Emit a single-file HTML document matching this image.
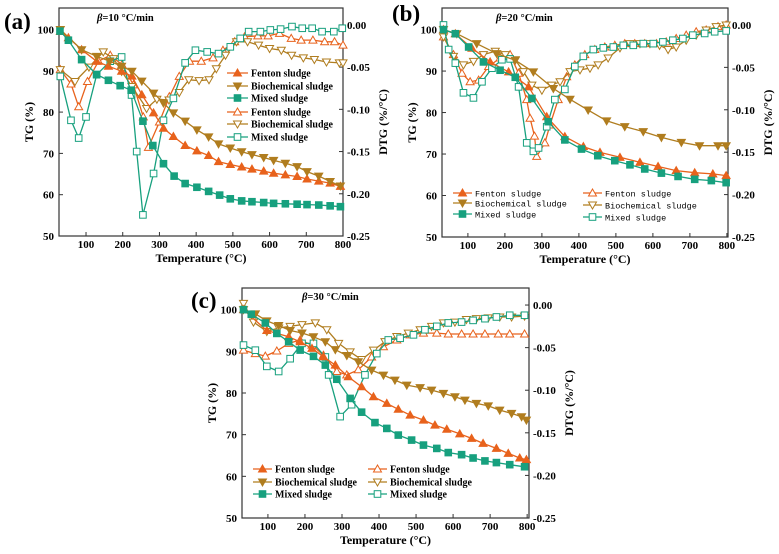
<!DOCTYPE html>
<html><head><meta charset="utf-8"><style>
body{margin:0;background:#fff;width:779px;height:554px;overflow:hidden}
svg{display:block;font-family:"Liberation Serif",serif}
</style></head><body>
<svg id="chart" width="779" height="554" viewBox="0 0 779 554"></svg>
<script>
// ---------- data ----------
const aFentonTG=[[30,99.5],[52,98],[88,95.1],[129,92.3],[161,91.1],[197,89.9],[225,88.7],[252,84.2],[284,79.8],[311,76.1],[338,74.1],[370,71.9],[402,70.6],[434,69.5],[461,68],[493,67.3],[524,66.7],[552,66.2],[584,65.7],[611,65.2],[643,64.8],[675,64.4],[702,63.8],[734,63.3],[765,62.8],[793,62]];
const aBioTG=[[30,100],[88,95.1],[129,93.5],[165,92.3],[197,91.1],[225,89.9],[252,87.5],[284,84.6],[311,82.2],[338,79.8],[370,77.8],[402,75.7],[434,74],[461,72.3],[493,71.3],[524,70.4],[552,69.7],[584,69],[611,68.3],[643,67.6],[675,66.8],[702,65.6],[734,64.5],[765,63.2],[793,62.1]];
const aMixTG=[[29,99.6],[52,97.4],[88,92.7],[129,89.1],[161,87.7],[193,86.4],[223,85.3],[255,77.8],[282,71.9],[311,67.5],[340,64.5],[370,62.7],[402,61.8],[434,60.8],[464,59.9],[493,59],[524,58.5],[552,58.3],[584,58.1],[611,57.9],[643,57.8],[675,57.7],[702,57.6],[734,57.5],[765,57.3],[793,57.1]];
const aFentonDTG=[[30,-0.053],[59,-0.070],[80,-0.097],[104,-0.067],[134,-0.043],[166,-0.036],[198,-0.047],[229,-0.071],[256,-0.109],[270,-0.145],[300,-0.115],[327,-0.085],[354,-0.061],[382,-0.043],[414,-0.043],[446,-0.039],[473,-0.030],[505,-0.020],[532,-0.014],[568,-0.013],[596,-0.013],[627,-0.010],[659,-0.016],[686,-0.018],[718,-0.018],[750,-0.020],[777,-0.020],[800,-0.024]];
const aBioDTG=[[30,-0.053],[70,-0.067],[108,-0.050],[147,-0.032],[175,-0.040],[197,-0.055],[225,-0.073],[265,-0.099],[293,-0.088],[326,-0.089],[354,-0.080],[380,-0.065],[408,-0.066],[435,-0.065],[455,-0.052],[480,-0.036],[510,-0.020],[540,-0.020],[570,-0.024],[600,-0.028],[632,-0.030],[660,-0.036],[692,-0.039],[722,-0.041],[755,-0.044],[790,-0.045],[800,-0.045]];
const aMixDTG=[[30,-0.061],[59,-0.113],[80,-0.134],[100,-0.109],[129,-0.059],[166,-0.043],[197,-0.038],[224,-0.083],[238,-0.150],[255,-0.225],[284,-0.176],[311,-0.113],[338,-0.087],[370,-0.045],[398,-0.030],[430,-0.032],[461,-0.034],[493,-0.026],[520,-0.016],[543,-0.008],[575,-0.008],[602,-0.006],[630,-0.005],[661,-0.002],[689,-0.004],[716,-0.004],[743,-0.008],[775,-0.008],[798,-0.004]];
const bFentonTG=[[34,100],[66,99],[111,95.5],[160,92.2],[210,89.8],[264,86.2],[313,79],[362,74.2],[412,71.8],[457,70.4],[511,69.2],[565,68],[614,67],[663,66],[713,65.5],[762,65.2],[798,64.8]];
const bBioTG=[[34,100],[70,99],[124,96.6],[178,94.2],[228,92.6],[277,89.8],[331,85.8],[376,83.2],[425,80.6],[475,78],[524,76.6],[574,75.4],[623,74],[677,72.8],[726,72],[776,72],[798,72]];
const bMixTG=[[34,100],[66,99],[102,95.8],[142,92.2],[187,90.2],[228,88.5],[273,83.4],[317,77.8],[362,73.4],[407,71.2],[451,69.6],[497,68.4],[538,67.4],[578,66.4],[623,65.4],[668,64.6],[713,63.9],[758,63.6],[798,63.1]];
const bFentonDTG=[[34,-0.014],[61,-0.035],[84,-0.057],[106,-0.067],[129,-0.065],[156,-0.049],[187,-0.039],[214,-0.035],[237,-0.057],[259,-0.088],[268,-0.110],[280,-0.131],[286,-0.155],[308,-0.139],[322,-0.118],[344,-0.088],[367,-0.061],[389,-0.047],[416,-0.035],[443,-0.029],[470,-0.026],[497,-0.024],[524,-0.022],[551,-0.022],[578,-0.022],[610,-0.022],[636,-0.020],[663,-0.016],[690,-0.012],[717,-0.008],[744,-0.006],[776,-0.002],[798,0]];
const bBioDTG=[[34,-0.014],[61,-0.037],[88,-0.047],[115,-0.043],[142,-0.035],[174,-0.031],[201,-0.035],[228,-0.041],[250,-0.055],[273,-0.071],[300,-0.077],[326,-0.071],[349,-0.067],[376,-0.055],[403,-0.053],[430,-0.051],[452,-0.047],[479,-0.039],[511,-0.027],[538,-0.022],[565,-0.022],[592,-0.022],[618,-0.024],[641,-0.029],[663,-0.026],[690,-0.018],[717,-0.012],[744,-0.006],[771,-0.002],[798,0]];
const bMixDTG=[[34,0],[48,-0.029],[66,-0.045],[88,-0.080],[115,-0.086],[138,-0.067],[165,-0.051],[192,-0.041],[214,-0.040],[237,-0.073],[259,-0.139],[277,-0.149],[291,-0.145],[313,-0.120],[335,-0.088],[362,-0.076],[389,-0.049],[412,-0.037],[439,-0.029],[466,-0.027],[493,-0.026],[520,-0.024],[547,-0.024],[574,-0.022],[601,-0.022],[627,-0.020],[654,-0.018],[681,-0.016],[708,-0.012],[740,-0.010],[767,-0.008],[798,-0.007]];
const cFentonTG=[[34,100],[97,95],[156,93.5],[187,92.3],[219,90.7],[250,88.7],[282,86.7],[317,83.9],[353,81.5],[385,79.1],[421,77.5],[452,76.1],[484,74.7],[520,73.5],[551,72.3],[583,71.3],[618,70.2],[650,69.1],[681,67.9],[717,66.7],[749,65.5],[780,64.4],[798,64]];
const cBioTG=[[34,100],[66,99],[97,97.3],[129,96.2],[160,95],[192,94.4],[223,93.5],[255,92.3],[282,90.4],[313,89],[344,87.5],[380,85.5],[412,84.3],[443,83.1],[475,81.9],[511,81.3],[542,80.7],[574,79.9],[605,79.1],[632,78.3],[663,77.5],[695,76.9],[726,75.9],[758,75.1],[785,74.3],[798,73.5]];
const cMixTG=[[34,100],[55,98.9],[93,96.8],[124,94.3],[156,92.3],[187,90.3],[223,88.8],[255,86.7],[286,83.3],[322,78.7],[353,75.4],[389,72.9],[421,71.5],[452,69.9],[488,68.7],[520,67.5],[556,66.7],[587,65.7],[623,65.2],[654,64.4],[686,63.7],[717,63.3],[753,62.8],[793,62.3]];
const cFentonDTG=[[34,-0.053],[66,-0.057],[93,-0.060],[124,-0.054],[156,-0.045],[187,-0.041],[219,-0.047],[250,-0.059],[286,-0.078],[313,-0.082],[344,-0.076],[380,-0.061],[412,-0.049],[448,-0.041],[484,-0.035],[520,-0.033],[556,-0.033],[587,-0.034],[623,-0.034],[654,-0.034],[686,-0.034],[722,-0.034],[753,-0.034],[793,-0.034]];
const cBioDTG=[[34,0.002],[61,-0.020],[97,-0.031],[129,-0.027],[160,-0.025],[192,-0.023],[228,-0.021],[259,-0.029],[291,-0.045],[322,-0.055],[353,-0.064],[385,-0.053],[416,-0.043],[448,-0.037],[479,-0.033],[511,-0.029],[542,-0.025],[574,-0.021],[605,-0.020],[636,-0.017],[663,-0.016],[695,-0.015],[726,-0.014],[758,-0.014],[793,-0.013]];
const cMixDTG=[[34,-0.047],[66,-0.053],[97,-0.072],[129,-0.078],[160,-0.063],[192,-0.045],[223,-0.045],[255,-0.061],[264,-0.082],[295,-0.131],[326,-0.117],[362,-0.082],[394,-0.057],[425,-0.041],[457,-0.039],[493,-0.035],[524,-0.029],[556,-0.025],[587,-0.021],[623,-0.020],[654,-0.018],[686,-0.016],[717,-0.014],[753,-0.012],[793,-0.012]];
const xTicks=[100,200,300,400,500,600,700,800];
const tgTicks=[50,60,70,80,90,100];
const dtgTicks=[-0.25,-0.20,-0.15,-0.10,-0.05,0.00];
const seriesNames=["Fenton sludge","Biochemical sludge","Mixed sludge"];
// ---------- drawing ----------
const NS="http://www.w3.org/2000/svg";
const svg=document.getElementById('chart');
const COL={f:"#e8621c",b:"#b07d1f",m:"#17a07e"};
function el(tag,attrs,parent){const e=document.createElementNS(NS,tag);for(const k in attrs)e.setAttribute(k,attrs[k]);(parent||svg).appendChild(e);return e;}
function marker(g,kind,filled,x,y,c){
  const fill=filled?c:"#fff";let m;
  if(kind==='up') m=el('polygon',{points:`${x},${y-4} ${x-4},${y+3} ${x+4},${y+3}`,fill,stroke:c,'stroke-width':1},g);
  else if(kind==='down') m=el('polygon',{points:`${x},${y+4} ${x-4},${y-3} ${x+4},${y-3}`,fill,stroke:c,'stroke-width':1},g);
  else m=el('rect',{x:x-3.3,y:y-3.3,width:6.6,height:6.6,fill,stroke:c,'stroke-width':1},g);
  
  
}
function panel(P){
  const g=el('g',{});
  
  
  const X=t=>P.l+(t-P.x0)/(P.x1-P.x0)*(P.r-P.l);
  const Y=v=>P.b-(v-50)/(105.2-50)*(P.b-P.t);
  const Y2=v=>P.b-(v+0.25)/(0.27)*(P.b-P.t);
  const fr=el('rect',{x:P.l,y:P.t,width:P.r-P.l,height:P.b-P.t,fill:'none',stroke:'#333','stroke-width':1.2},g);
  
  xTicks.forEach(t=>{const x=X(t);el('line',{x1:x,y1:P.b,x2:x,y2:P.b-4,stroke:'#333'},g);
    const tx=el('text',{x:x,y:P.b+12,'text-anchor':'middle','font-size':11,'font-weight':'bold'},g);tx.textContent=t;
    });
  tgTicks.forEach(v=>{const y=Y(v);el('line',{x1:P.l,y1:y,x2:P.l+4,y2:y,stroke:'#333'},g);
    const tx=el('text',{x:P.l-5,y:y+4,'text-anchor':'end','font-size':11,'font-weight':'bold'},g);tx.textContent=v;
    });
  dtgTicks.forEach(v=>{const y=Y2(v);el('line',{x1:P.r,y1:y,x2:P.r-4,y2:y,stroke:'#333'},g);
    const tx=el('text',{x:P.r+4,y:y+4,'font-size':11,'font-weight':'bold'},g);tx.textContent=v.toFixed(2);
    });
  let t=el('text',{x:P.lab[0],y:P.lab[1],'font-size':23,'font-weight':'bold'},g);t.textContent='('+P.id+')';
  
  t=el('text',{x:P.beta[0],y:P.beta[1],'font-size':10.5,'font-weight':'bold'},g);
  const ts=el('tspan',{'font-style':'italic'},t);ts.textContent='β';
  const ts2=el('tspan',{},t);ts2.textContent='='+P.rate+' °C/min';
  
  t=el('text',{x:(P.l+P.r)/2,y:P.b+26,'text-anchor':'middle','font-size':12,'font-weight':'bold'},g);t.textContent='Temperature (°C)';
  
  t=el('text',{x:0,y:0,'text-anchor':'middle','font-size':12,'font-weight':'bold',transform:`translate(${P.l-26},${(P.t+P.b)/2}) rotate(-90)`},g);t.textContent='TG (%)';
  
  t=el('text',{x:0,y:0,'text-anchor':'middle','font-size':12,'font-weight':'bold',transform:`translate(${P.r+44},${(P.t+P.b)/2}) rotate(-90)`},g);t.textContent='DTG (%/°C)';
  
  const S=[[P.d[3],'f','up',false,Y2],[P.d[4],'b','down',false,Y2],[P.d[5],'m','sq',false,Y2],
           [P.d[0],'f','up',true,Y],[P.d[1],'b','down',true,Y],[P.d[2],'m','sq',true,Y]];
  S.forEach(([data,c,kind,filled,YY])=>{
    const pts=data.map(p=>X(p[0]).toFixed(1)+','+YY(p[1]).toFixed(1)).join(' ');
    const pl=el('polyline',{points:pts,fill:'none',stroke:COL[c],'stroke-width':1.3,'stroke-linejoin':'round'},g);
    
    data.forEach(p=>marker(g,kind,filled,X(p[0]),YY(p[1]),COL[c]));
  });
  const L=P.leg;
  const order=[['f','up',true],['b','down',true],['m','sq',true],['f','up',false],['b','down',false],['m','sq',false]];
  order.forEach((o,i)=>{
    const [lx,ly]=L.pos[i];
    const lg=el('g',{},g);
    
    el('line',{x1:lx,y1:ly,x2:lx+L.w,y2:ly,stroke:COL[o[0]],'stroke-width':1.3},lg);
    marker(lg,o[1],o[2],lx+L.w/2,ly,COL[o[0]]);
    const tx=el('text',{x:lx+L.w+3,y:ly+3.5,'font-size':L.fs,'font-weight':L.mono?'normal':'bold','font-family':L.mono?'"Liberation Mono",monospace':'"Liberation Serif",serif'},lg);
    tx.textContent=seriesNames[i%3];
  });
}
panel({id:'a',rate:10,l:59,r:343,t:8,b:236,x0:26.4,x1:800,lab:[4,29],beta:[97,21],
  d:[aFentonTG,aBioTG,aMixTG,aFentonDTG,aBioDTG,aMixDTG],
  leg:{w:21,fs:10,mono:false,pos:[[227,73],[227,86],[227,98],[227,112],[227,124],[227,137]]}});
panel({id:'b',rate:20,l:442,r:728,t:8,b:237,x0:30,x1:803,lab:[392,21],beta:[496,21],
  d:[bFentonTG,bBioTG,bMixTG,bFentonDTG,bBioDTG,bMixDTG],
  leg:{w:19,fs:8.5,mono:true,pos:[[453,193],[453,203],[453,214],[583,193],[583,205],[583,217]]}});
panel({id:'c',rate:30,l:242,r:529,t:288,b:518,x0:30,x1:805,lab:[191,308],beta:[302,300],
  d:[cFentonTG,cBioTG,cMixTG,cFentonDTG,cBioDTG,cMixDTG],
  leg:{w:19,fs:10,mono:false,pos:[[253,469],[253,482],[253,494],[368,469],[368,482],[368,494]]}});
</script>
</body></html>
